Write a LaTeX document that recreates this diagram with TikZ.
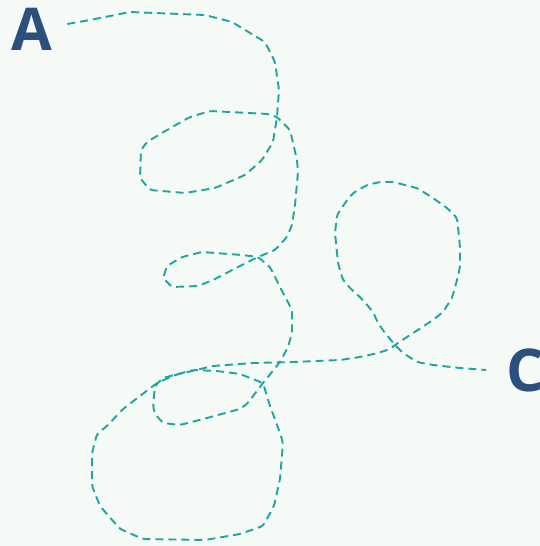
\documentclass[tikz,border=0pt]{standalone}
\usepackage{fontspec}
\setmainfont{Open Sans}
\usepackage{tikz}
\usetikzlibrary{
    positioning
}
\definecolor{fondo}{HTML}{F5FAF6}
\definecolor{hilo}{HTML}{1FA5A0}
\definecolor{letra}{HTML}{2D4F7C}
\tikzset{
    etiqueta/.style={
        font=\fontsize{59}{59}\selectfont\bfseries,
        text=letra,
        inner sep=0pt
    },
    camino/.style={
        draw=hilo,
        line width=1.9pt,
        dash pattern=on 8pt off 5pt,
        rounded corners=3pt
    }
}

\begin{document}
\begin{tikzpicture}[
    x=1pt,
    y=-1pt
]

    % Fondo
    \fill[fondo] (0,0) rectangle (540,546);
    \useasboundingbox (0,0) rectangle (540,546);

    % Extremos
    \node[etiqueta, outer xsep=15pt] (A) at (32,29)  {A};
    \node[etiqueta, outer xsep=20pt] (C) at (525,370) {C};

    % Hilo enredado de A a C
    \draw[camino]
        ([yshift=5pt]A.east) -- (90,20) -- (130,12) -- (205,15) -- (232,22)
        -- (265,42) -- (275,62) -- (279,90) -- (277,117)
        % primer lazo
        -- (273,142) -- (262,160) -- (245,175) -- (215,188) -- (185,193)
        -- (150,190) -- (140,178) -- (141,150) -- (147,142) -- (167,130)
        -- (190,117) -- (210,111) -- (268,114) -- (277,117)
        -- (290,130) -- (297,160) -- (298,172) -- (295,205) -- (292,225)
        -- (287,237) -- (275,250) -- (258,257)
        % segundo lazo
        -- (240,266) -- (213,280) -- (198,286) -- (172,287) -- (163,278)
        -- (167,266) -- (182,257) -- (202,252) -- (242,255) -- (258,257)
        -- (270,267) -- (280,287) -- (292,310) -- (292,333) -- (288,347)
        -- (280,362) -- (263,383)
        % lazo chico
        -- (247,404) -- (240,409) -- (207,418) -- (180,425) -- (163,423)
        -- (155,414) -- (153,406) -- (155,386) -- (163,378) -- (193,370)
        -- (217,371) -- (240,374) -- (263,383)
        % lazo grande
        -- (270,406) -- (280,433) -- (283,443) -- (280,479) -- (274,506)
        -- (263,526) -- (240,534) -- (205,540) -- (143,539) -- (120,529)
        -- (100,506) -- (92,486) -- (92,453) -- (97,434) -- (107,426)
        -- (123,409) -- (140,396) -- (157,383) -- (175,375) -- (213,366)
        -- (253,363) -- (293,362) -- (340,360) -- (360,357) -- (378,353)
        -- (390,349) -- (395,345)
        % lazo de la derecha
        -- (407,337) -- (433,320) -- (443,312) -- (452,298) -- (457,280)
        -- (460,267) -- (460,247) -- (458,227) -- (457,218) -- (447,208)
        -- (433,198) -- (417,188) -- (393,182) -- (380,182) -- (367,185)
        -- (353,193) -- (345,203) -- (337,215) -- (335,233) -- (338,263)
        -- (343,280) -- (350,288) -- (363,300) -- (373,312) -- (378,323)
        -- (385,333) -- (395,345)
        -- (403,353) -- (417,362) -- (433,365) -- (460,368) -- (C.west);

\end{tikzpicture}
\end{document}
